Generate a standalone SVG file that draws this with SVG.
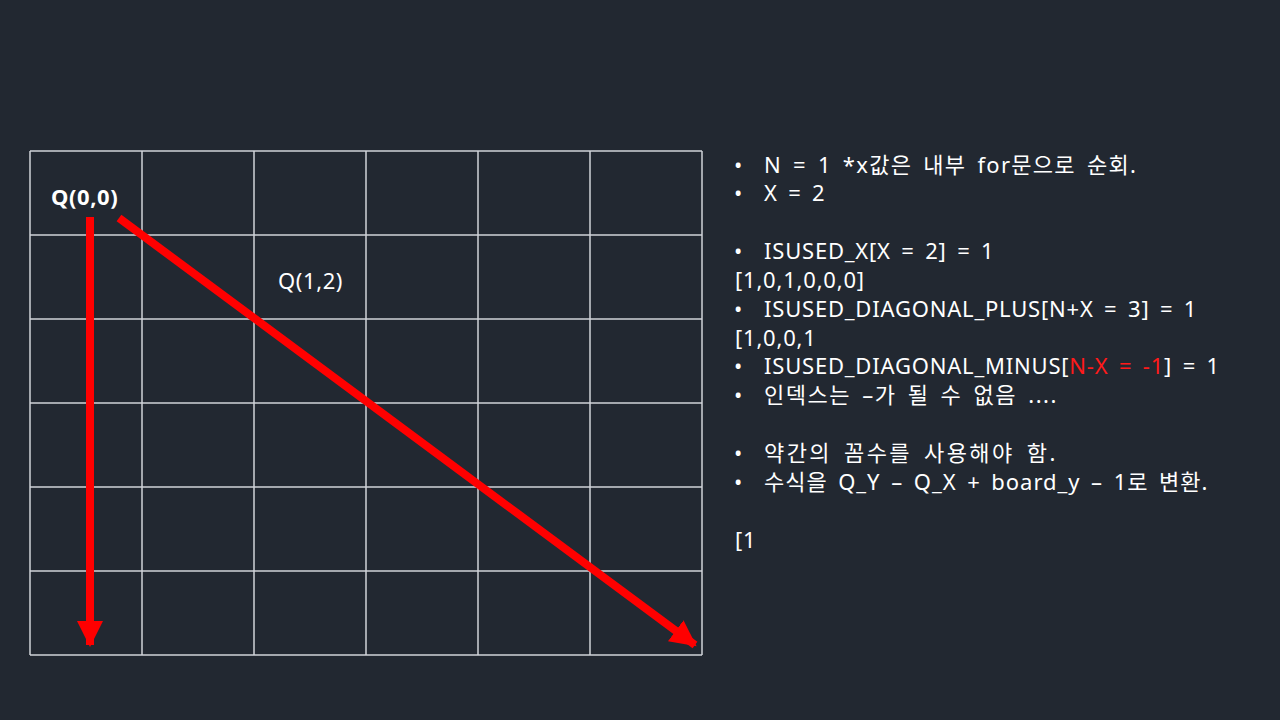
<svg xmlns="http://www.w3.org/2000/svg" width="1280" height="720" viewBox="0 0 1280 720">
  <defs>
    <style>
      .grid line { stroke: #d0d3d8; stroke-width: 1.5; }
      .lbl { font-family: "Noto Sans", "Noto Sans CJK KR", sans-serif; fill: #ffffff; font-size: 22px; letter-spacing: 0.6px; }
      .txt { font-family: "Noto Sans", "Noto Sans CJK KR", sans-serif; fill: #ffffff; font-size: 22px; letter-spacing: 0.8px; word-spacing: 4px; white-space: pre; }
      .red { fill: #ff1a1a; }
      .arrow { stroke: #ff0000; stroke-width: 8; fill: none; }
    </style>
    <marker id="ah" markerUnits="userSpaceOnUse" markerWidth="28" markerHeight="28" refX="24" refY="13" orient="auto">
      <path d="M0,0 L26,13 L0,26 Z" fill="#ff0000"/>
    </marker>
  </defs>
  <rect width="1280" height="720" fill="#222831"/>

  <g id="grid" class="grid">
    <line x1="30" y1="151" x2="702" y2="151"/>
    <line x1="30" y1="235" x2="702" y2="235"/>
    <line x1="30" y1="319" x2="702" y2="319"/>
    <line x1="30" y1="403" x2="702" y2="403"/>
    <line x1="30" y1="487" x2="702" y2="487"/>
    <line x1="30" y1="571" x2="702" y2="571"/>
    <line x1="30" y1="655" x2="702" y2="655"/>
    <line x1="30" y1="151" x2="30" y2="655"/>
    <line x1="142" y1="151" x2="142" y2="655"/>
    <line x1="254" y1="151" x2="254" y2="655"/>
    <line x1="366" y1="151" x2="366" y2="655"/>
    <line x1="478" y1="151" x2="478" y2="655"/>
    <line x1="590" y1="151" x2="590" y2="655"/>
    <line x1="702" y1="151" x2="702" y2="655"/>
  </g>

  <g id="connectors">
    <line class="arrow" x1="90" y1="217" x2="90" y2="645" marker-end="url(#ah)"/>
    <line class="arrow" x1="119" y1="218" x2="695" y2="645" stroke-width="9" marker-end="url(#ah)"/>
  </g>

  <g id="q00"><text class="lbl" x="51" y="205" font-weight="bold" letter-spacing="1">Q(0,0)</text></g>
  <g id="q12"><text class="lbl" x="278" y="289">Q(1,2)</text></g>

  <g id="notes" class="txt">
    <text x="734" y="173">•</text><text x="764" y="173" letter-spacing="1.3">N = 1 *x값은 내부 for문으로 순회.</text>
    <text x="734" y="201">•</text><text x="764" y="201">X = 2</text>
    <text x="734" y="259">•</text><text x="764" y="259">ISUSED_X[X  = 2] = 1</text>
    <text x="735" y="288">[1,0,1,0,0,0]</text>
    <text x="734" y="317">•</text><text x="764" y="317">ISUSED_DIAGONAL_PLUS[N+X = 3] = 1</text>
    <text x="735" y="346">[1,0,0,1</text>
    <text x="734" y="374">•</text><text x="764" y="374">ISUSED_DIAGONAL_MINUS[<tspan class="red">N-X = -1</tspan>] = 1</text>
    <text x="734" y="403">•</text><text x="764" y="403" letter-spacing="1.5">인덱스는 –가 될 수 없음 ....</text>
    <text x="734" y="461">•</text><text x="764" y="461" letter-spacing="2.4">약간의 꼼수를 사용해야 함.</text>
    <text x="734" y="490">•</text><text x="764" y="490" letter-spacing="0.95">수식을 Q_Y – Q_X + board_y – 1로 변환.</text>
    <text x="735" y="548">[1</text>
  </g>
</svg>
